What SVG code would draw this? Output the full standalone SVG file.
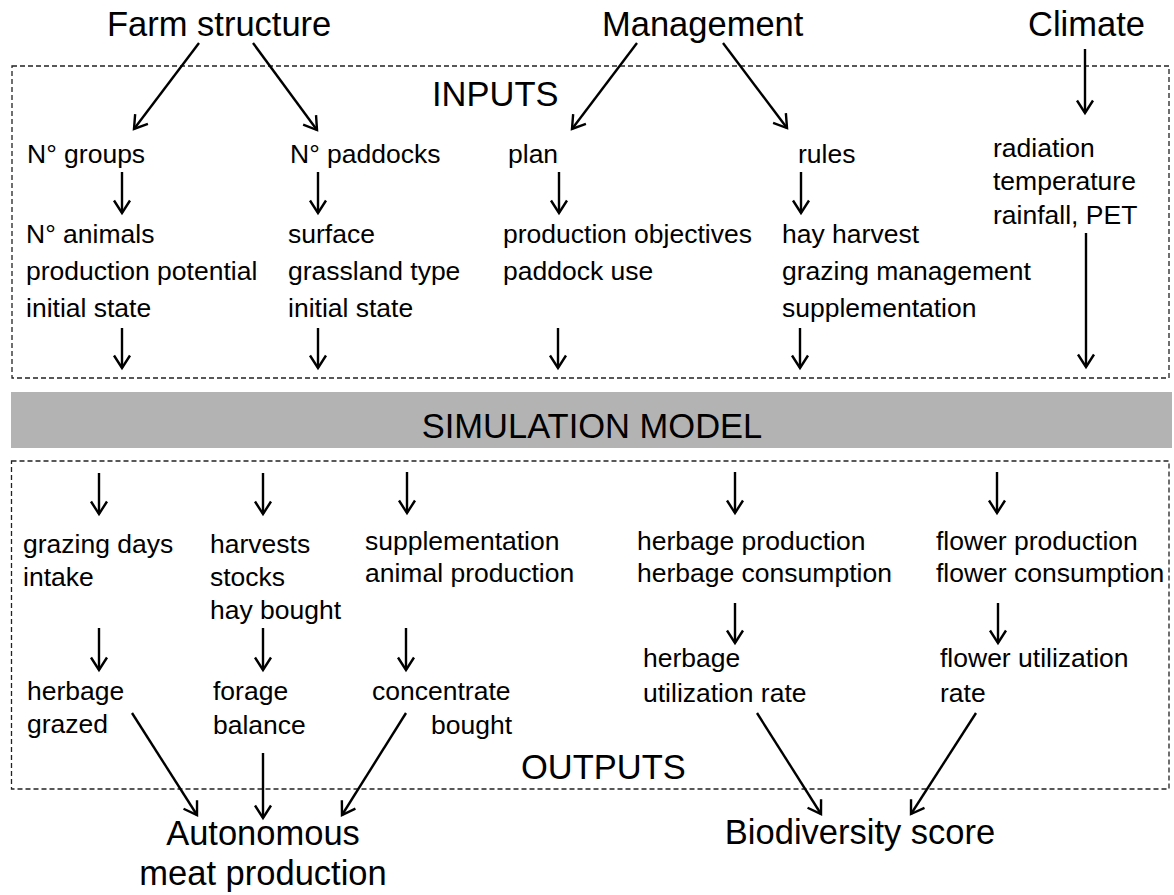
<svg xmlns="http://www.w3.org/2000/svg" width="1174" height="895" viewBox="0 0 1174 895">
<style>
text{font-family:"Liberation Sans",Arial,sans-serif;fill:#000}
.big{font-size:34.5px}
.med{font-size:26.5px}
.box{fill:none;stroke:#222;stroke-width:1.3;stroke-dasharray:5 3}
.arr{fill:none;stroke:#000;stroke-width:2.4;marker-end:url(#ah)}
</style>
<defs>
<marker id="ah" markerUnits="userSpaceOnUse" markerWidth="30" markerHeight="30" viewBox="-15 -15 30 30" refX="0" refY="0" orient="auto">
<path d="M-12.5,-8 L0,0 L-12.5,8" fill="none" stroke="#000" stroke-width="2.4" stroke-linejoin="miter"/>
</marker>
</defs>
<rect x="0" y="0" width="1174" height="895" fill="#fff"/>
<g id="frames">
<rect class="box" x="12" y="66" width="1157" height="312"/>
<rect class="box" x="11.5" y="461" width="1157.5" height="328"/>
</g>
<g id="simulation-model">
<rect x="11" y="392" width="1161" height="56" fill="#b3b3b3"/>
<text class="big" x="592" y="438" text-anchor="middle">SIMULATION MODEL</text>
</g>
<g id="farm-structure"><text class="big" x="107" y="36">Farm structure</text></g>
<g id="management"><text class="big" x="602" y="36">Management</text></g>
<g id="climate"><text class="big" x="1028" y="36">Climate</text></g>
<g id="inputs-label"><text class="big" x="432" y="106">INPUTS</text></g>
<g id="outputs-label"><text class="big" x="521" y="779">OUTPUTS</text></g>
<g id="n-groups"><text class="med" x="27" y="163">N° groups</text></g>
<g id="n-paddocks"><text class="med" x="290" y="163">N° paddocks</text></g>
<g id="plan"><text class="med" x="508" y="163">plan</text></g>
<g id="rules"><text class="med" x="798" y="163">rules</text></g>
<g id="climate-vars"><text class="med" x="993" y="157">radiation</text><text class="med" x="993" y="190">temperature</text><text class="med" x="993" y="224">rainfall, PET</text></g>
<g id="animals"><text class="med" x="26" y="243">N° animals</text><text class="med" x="26" y="280">production potential</text><text class="med" x="26" y="317">initial state</text></g>
<g id="surface"><text class="med" x="288" y="243">surface</text><text class="med" x="288" y="280">grassland type</text><text class="med" x="288" y="317">initial state</text></g>
<g id="objectives"><text class="med" x="503" y="243">production objectives</text><text class="med" x="503" y="280">paddock use</text></g>
<g id="hay-harvest"><text class="med" x="782" y="243">hay harvest</text><text class="med" x="782" y="280">grazing management</text><text class="med" x="782" y="317">supplementation</text></g>
<g id="grazing-days"><text class="med" x="23" y="553">grazing days</text><text class="med" x="23" y="586">intake</text></g>
<g id="harvests"><text class="med" x="210" y="553">harvests</text><text class="med" x="210" y="586">stocks</text><text class="med" x="210" y="619">hay bought</text></g>
<g id="supplementation"><text class="med" x="365" y="550">supplementation</text><text class="med" x="365" y="582">animal production</text></g>
<g id="herbage-production"><text class="med" x="637" y="550">herbage production</text><text class="med" x="637" y="582">herbage consumption</text></g>
<g id="flower-production"><text class="med" x="936" y="550">flower production</text><text class="med" x="936" y="582">flower consumption</text></g>
<g id="herbage-grazed"><text class="med" x="27" y="700">herbage</text><text class="med" x="27" y="733">grazed</text></g>
<g id="forage-balance"><text class="med" x="213" y="700">forage</text><text class="med" x="213" y="734">balance</text></g>
<g id="concentrate-bought"><text class="med" x="372" y="700">concentrate</text><text class="med" x="512" y="734" text-anchor="end">bought</text></g>
<g id="herbage-utilization"><text class="med" x="643" y="667">herbage</text><text class="med" x="643" y="702">utilization rate</text></g>
<g id="flower-utilization"><text class="med" x="940" y="667">flower utilization</text><text class="med" x="940" y="702">rate</text></g>
<g id="autonomous-meat"><text class="big" x="263" y="845" text-anchor="middle">Autonomous</text><text class="big" x="263" y="885" text-anchor="middle">meat production</text></g>
<g id="biodiversity"><text class="big" x="860" y="844" text-anchor="middle">Biodiversity score</text></g>
<g id="connectors">
<line class="arr" x1="199" y1="43" x2="134" y2="129"/>
<line class="arr" x1="253" y1="43" x2="317" y2="130"/>
<line class="arr" x1="637" y1="43" x2="572" y2="129"/>
<line class="arr" x1="723" y1="43" x2="787" y2="128"/>
<line class="arr" x1="1085" y1="49" x2="1085" y2="113"/>
<line class="arr" x1="122" y1="172" x2="122" y2="213"/>
<line class="arr" x1="318" y1="172" x2="318" y2="213"/>
<line class="arr" x1="559" y1="172" x2="559" y2="213"/>
<line class="arr" x1="801" y1="172" x2="801" y2="213"/>
<line class="arr" x1="122" y1="328" x2="122" y2="368"/>
<line class="arr" x1="318" y1="328" x2="318" y2="368"/>
<line class="arr" x1="558" y1="328" x2="558" y2="368"/>
<line class="arr" x1="800" y1="328" x2="800" y2="368"/>
<line class="arr" x1="1086" y1="233" x2="1086" y2="367"/>
<line class="arr" x1="99" y1="473" x2="99" y2="514"/>
<line class="arr" x1="263" y1="473" x2="263" y2="514"/>
<line class="arr" x1="407" y1="472" x2="407" y2="513"/>
<line class="arr" x1="735" y1="472" x2="735" y2="513"/>
<line class="arr" x1="997" y1="472" x2="997" y2="513"/>
<line class="arr" x1="99" y1="628" x2="99" y2="670"/>
<line class="arr" x1="263" y1="628" x2="263" y2="670"/>
<line class="arr" x1="406" y1="628" x2="406" y2="670"/>
<line class="arr" x1="735" y1="603" x2="735" y2="643"/>
<line class="arr" x1="998" y1="603" x2="998" y2="643"/>
<line class="arr" x1="132" y1="713" x2="197" y2="815"/>
<line class="arr" x1="263" y1="753" x2="263" y2="818"/>
<line class="arr" x1="406" y1="713" x2="342" y2="815"/>
<line class="arr" x1="757" y1="713" x2="821" y2="814"/>
<line class="arr" x1="976" y1="713" x2="911" y2="814"/>
</g>
</svg>
